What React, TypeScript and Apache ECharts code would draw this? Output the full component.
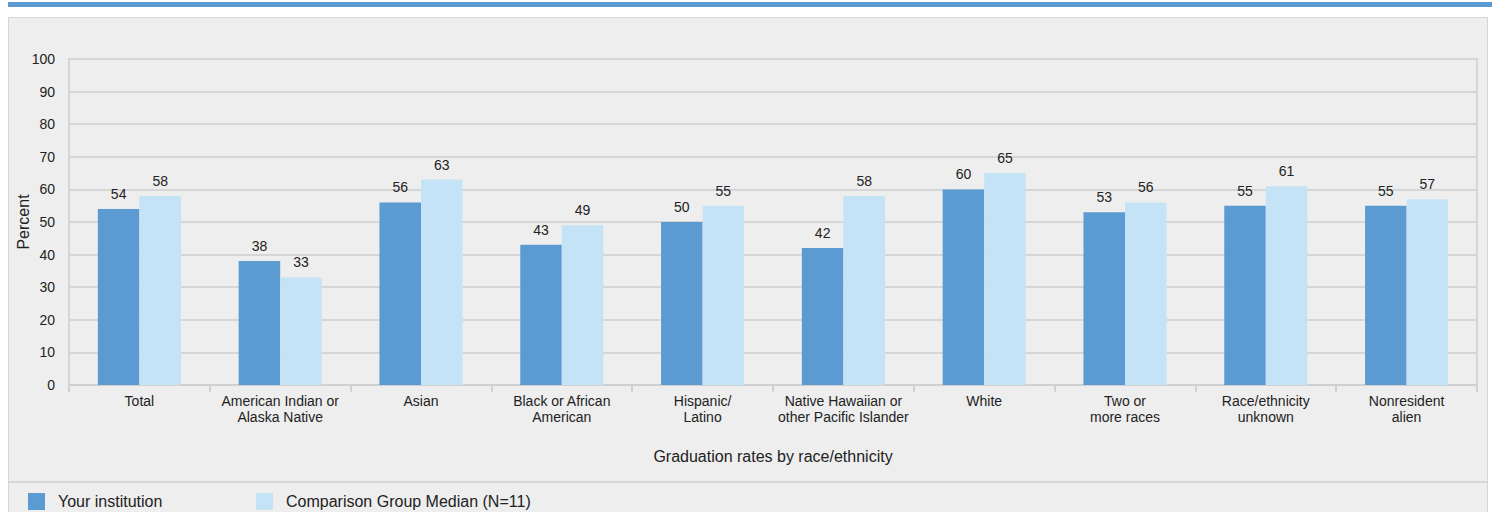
import React, { useEffect, useRef } from "react";
import * as echarts from "echarts";

const categories = [
  "Total",
  "American Indian or\nAlaska Native",
  "Asian",
  "Black or African\nAmerican",
  "Hispanic/\nLatino",
  "Native Hawaiian or\nother Pacific Islander",
  "White",
  "Two or\nmore races",
  "Race/ethnicity\nunknown",
  "Nonresident\nalien",
];
const yourInstitution = [54, 38, 56, 43, 50, 42, 60, 53, 55, 55];
const comparisonMedian = [58, 33, 63, 49, 55, 58, 65, 56, 61, 57];
const seriesNames = ["Your institution", "Comparison Group Median (N=11)"];
const xAxisTitle = "Graduation rates by race/ethnicity";
const yAxisTitle = "Percent";

const FONT = "'Liberation Sans', Arial, Helvetica, sans-serif";

export default function App() {
  const ref = useRef<HTMLDivElement>(null);
  useEffect(() => {
    if (!ref.current) return;
    const chart = echarts.init(ref.current, undefined, { renderer: "svg" });
    const labelStyle = {
      show: true,
      position: "top" as const,
      color: "#222",
      fontSize: 14,
      fontFamily: FONT,
      distance: 8,
    };
    const legendText = {
      fontSize: 16,
      color: "#222",
      fontFamily: FONT,
      padding: [0, 0, 0, 8],
    };
    chart.setOption({
      animation: false,
      textStyle: { fontFamily: FONT },
      graphic: [
        {
          type: "rect",
          z: -10,
          shape: { x: 8, y: 2, width: 1484, height: 5 },
          style: { fill: "#5b9bd1" },
          silent: true,
        },
        {
          type: "rect",
          z: -10,
          shape: { x: 8.5, y: 17.5, width: 1479, height: 510 },
          style: { fill: "#eeeeee", stroke: "#d6d6d6", lineWidth: 1 },
          silent: true,
        },
        {
          type: "line",
          z: -9,
          shape: { x1: 9, y1: 482, x2: 1487, y2: 482 },
          style: { stroke: "#d6d6d6", lineWidth: 2 },
          silent: true,
        },
      ],
      grid: {
        left: 69,
        right: 15,
        top: 59,
        bottom: 127,
        show: true,
        borderColor: "#d6d6d6",
        borderWidth: 2,
        backgroundColor: "transparent",
      },
      legend: [
        {
          data: [seriesNames[0]],
          left: 28,
          top: 493,
          padding: 0,
          itemWidth: 17,
          itemHeight: 17,
          icon: "rect",
          textStyle: legendText,
        },
        {
          data: [seriesNames[1]],
          left: 256,
          top: 493,
          padding: 0,
          itemWidth: 17,
          itemHeight: 17,
          icon: "rect",
          textStyle: legendText,
        },
      ],
      xAxis: {
        type: "category",
        data: categories,
        name: xAxisTitle,
        nameLocation: "middle",
        nameGap: 63,
        nameTextStyle: { fontSize: 16, color: "#222", fontFamily: FONT },
        axisLine: { show: true, lineStyle: { color: "#d0d0d0", width: 2 } },
        axisTick: { show: true, length: 7, lineStyle: { color: "#d0d0d0", width: 2 } },
        axisLabel: {
          fontSize: 14,
          color: "#222",
          fontFamily: FONT,
          lineHeight: 16,
          margin: 8,
          interval: 0,
        },
      },
      yAxis: {
        type: "value",
        min: 0,
        max: 100,
        interval: 10,
        name: yAxisTitle,
        nameLocation: "middle",
        nameGap: 38,
        nameMoveOverlap: false,
        nameTextStyle: { fontSize: 16, color: "#222", fontFamily: FONT },
        axisLine: { show: true, lineStyle: { color: "#d6d6d6", width: 2 } },
        axisTick: { show: false },
        splitLine: { show: true, lineStyle: { color: "#d6d6d6", width: 2 } },
        axisLabel: { fontSize: 14, color: "#222", fontFamily: FONT, margin: 14 },
      },
      series: [
        {
          name: seriesNames[0],
          type: "bar",
          data: yourInstitution,
          barGap: "0%",
          barCategoryGap: "41%",
          itemStyle: { color: "#5b9bd1" },
          label: labelStyle,
        },
        {
          name: seriesNames[1],
          type: "bar",
          data: comparisonMedian,
          itemStyle: { color: "#c5e3f6" },
          label: labelStyle,
        },
      ],
    });
    return () => chart.dispose();
  }, []);
  return (
    <div
      ref={ref}
      style={{ position: "absolute", left: 0, top: 0, width: 1492, height: 512 }}
    />
  );
}
